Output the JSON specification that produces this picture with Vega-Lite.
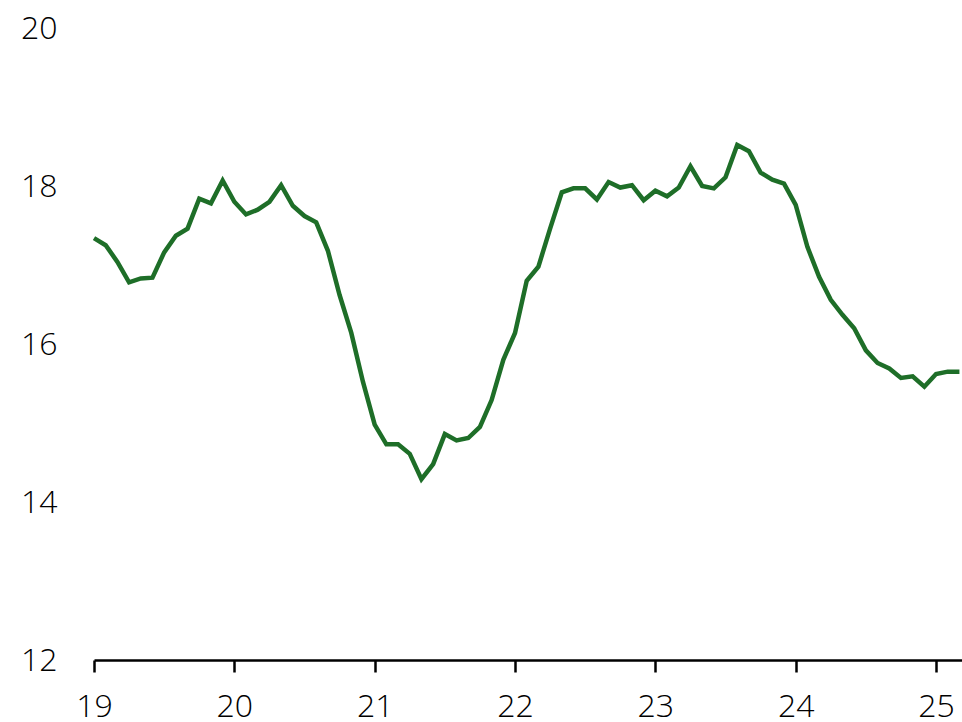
{
  "$schema": "https://vega.github.io/schema/vega-lite/v6.json",
  "width": 868,
  "height": 632,
  "padding": {"left": 94, "top": 28, "right": 0, "bottom": 62},
  "autosize": "none",
  "background": "white",
  "config": {"view": {"stroke": null}},
  "data": {"values": [
    {"t": 19.0000, "v": 17.34}, {"t": 19.0833, "v": 17.25}, {"t": 19.1667, "v": 17.04}, {"t": 19.25, "v": 16.78},
    {"t": 19.3333, "v": 16.83}, {"t": 19.4167, "v": 16.84}, {"t": 19.5, "v": 17.16}, {"t": 19.5833, "v": 17.37},
    {"t": 19.6667, "v": 17.46}, {"t": 19.75, "v": 17.84}, {"t": 19.8333, "v": 17.78}, {"t": 19.9167, "v": 18.07},
    {"t": 20.0, "v": 17.80}, {"t": 20.0833, "v": 17.64}, {"t": 20.1667, "v": 17.70}, {"t": 20.25, "v": 17.80},
    {"t": 20.3333, "v": 18.01}, {"t": 20.4167, "v": 17.75}, {"t": 20.5, "v": 17.62}, {"t": 20.5833, "v": 17.54},
    {"t": 20.6667, "v": 17.18}, {"t": 20.75, "v": 16.62}, {"t": 20.8333, "v": 16.14}, {"t": 20.9167, "v": 15.52},
    {"t": 21.0, "v": 14.98}, {"t": 21.0833, "v": 14.73}, {"t": 21.1667, "v": 14.73}, {"t": 21.25, "v": 14.61},
    {"t": 21.3333, "v": 14.29}, {"t": 21.4167, "v": 14.48}, {"t": 21.5, "v": 14.86}, {"t": 21.5833, "v": 14.78},
    {"t": 21.6667, "v": 14.81}, {"t": 21.75, "v": 14.95}, {"t": 21.8333, "v": 15.29}, {"t": 21.9167, "v": 15.80},
    {"t": 22.0, "v": 16.14}, {"t": 22.0833, "v": 16.80}, {"t": 22.1667, "v": 16.98}, {"t": 22.25, "v": 17.46},
    {"t": 22.3333, "v": 17.92}, {"t": 22.4167, "v": 17.97}, {"t": 22.5, "v": 17.97}, {"t": 22.5833, "v": 17.83},
    {"t": 22.6667, "v": 18.05}, {"t": 22.75, "v": 17.98}, {"t": 22.8333, "v": 18.01}, {"t": 22.9167, "v": 17.82},
    {"t": 23.0, "v": 17.94}, {"t": 23.0833, "v": 17.87}, {"t": 23.1667, "v": 17.98}, {"t": 23.25, "v": 18.25},
    {"t": 23.3333, "v": 18.00}, {"t": 23.4167, "v": 17.97}, {"t": 23.5, "v": 18.11}, {"t": 23.5833, "v": 18.52},
    {"t": 23.6667, "v": 18.44}, {"t": 23.75, "v": 18.17}, {"t": 23.8333, "v": 18.08}, {"t": 23.9167, "v": 18.03},
    {"t": 24.0, "v": 17.76}, {"t": 24.0833, "v": 17.23}, {"t": 24.1667, "v": 16.85}, {"t": 24.25, "v": 16.56},
    {"t": 24.3333, "v": 16.37}, {"t": 24.4167, "v": 16.20}, {"t": 24.5, "v": 15.92}, {"t": 24.5833, "v": 15.76},
    {"t": 24.6667, "v": 15.69}, {"t": 24.75, "v": 15.57}, {"t": 24.8333, "v": 15.59}, {"t": 24.9167, "v": 15.46},
    {"t": 25.0, "v": 15.62}, {"t": 25.0833, "v": 15.65}, {"t": 25.1667, "v": 15.65}
  ]},
  "mark": {"type": "line", "color": "#1e6e28", "strokeWidth": 4.5, "clip": false},
  "encoding": {
    "x": {
      "field": "t", "type": "quantitative",
      "scale": {"domain": [19, 25.185], "nice": false, "zero": false},
      "axis": {
        "title": null, "values": [19, 20, 21, 22, 23, 24, 25], "format": "d",
        "grid": false, "domainColor": "#000", "domainWidth": 2.5, "tickColor": "#000", "tickWidth": 2.5, "tickSize": 12,
        "labelFont": "Open Sans", "labelFontWeight": 300, "labelFontSize": 32, "labelColor": "#000", "labelPadding": 19, "labelFlush": false
      }
    },
    "y": {
      "field": "v", "type": "quantitative",
      "scale": {"domain": [12, 20], "nice": false, "zero": false},
      "axis": {
        "title": null, "values": [12, 14, 16, 18, 20], "grid": false, "domain": false, "ticks": false,
        "labelFont": "Open Sans", "labelFontWeight": 300, "labelFontSize": 32, "labelColor": "#000", "labelPadding": 37
      }
    }
  }
}
